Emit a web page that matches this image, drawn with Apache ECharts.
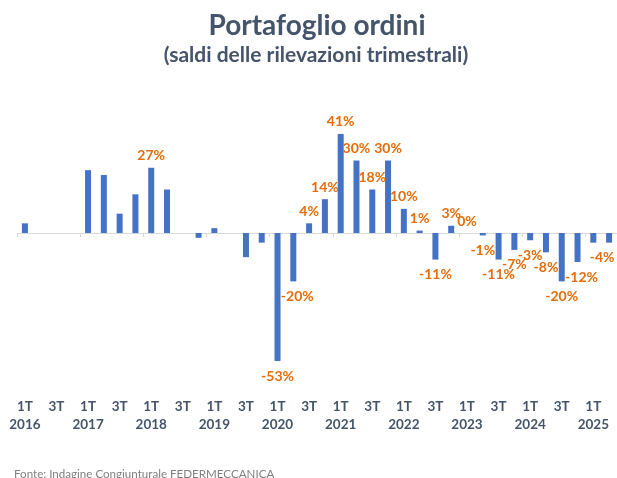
<!DOCTYPE html>
<html>
<head>
<meta charset="utf-8">
<script src="https://cdn.jsdelivr.net/npm/echarts@6/dist/echarts.min.js"></script>
<style>
  html, body { margin: 0; padding: 0; background: #fff; }
  #chart { width: 617px; height: 478px; }
</style>
</head>
<body>
<div id="chart"></div>
<script>
// anni e trimestri (1T 2016 .. 2T 2025)
const years = ['2016', '2017', '2018', '2019', '2020', '2021', '2022', '2023', '2024', '2025'];
const quarters = ['1T', '2T', '3T', '4T'];
// saldi %
const values = [
  4, 0, 0, 0,
  26, 24, 8, 16,
  27, 18, 0, -2,
  2, 0, -10, -4,
  -53, -20, 4, 14,
  41, 30, 18, 30,
  10, 1, -11, 3,
  0, -1, -11, -7,
  -3, -8, -20, -12,
  -4, -4
];
// trimestri con etichetta
const shownLabels = [8, 16, 17, 18, 19, 20, 21, 22, 23, 24, 25, 26, 27, 28, 29, 30, 31, 32, 33, 34, 35, 37];

const categories = [];
years.forEach(y => quarters.forEach(q => categories.push(q + ' ' + y)));
categories.length = values.length;

const blue = '#4472C4';
const orange = '#E46C0A';
const textDark = '#44546A';
const gridColor = '#D9D9D9';

// spostamenti manuali delle etichette, come nell'originale
const labelShift = { 17: 4, 35: 4, 37: -7 };

const barData = values.map((v, i) => {
  const show = shownLabels.indexOf(i) >= 0;
  return {
    value: v,
    label: {
      show: show,
      position: v >= 0 ? 'top' : 'bottom',
      distance: v >= 0 ? 5 : 8,
      offset: [labelShift[i] || 0, 0]
    }
  };
});

const chart = echarts.init(document.getElementById('chart'));
chart.setOption({
  animation: false,
  graphic: [
    {
      type: 'text', x: 317, y: 26,
      style: {
        text: 'Portafoglio ordini', fill: textDark,
        font: 'bold 28px Lato', align: 'center', verticalAlign: 'middle',
        textAlign: 'center', textVerticalAlign: 'middle'
      }
    },
    {
      type: 'text', x: 316, y: 55,
      style: {
        text: '(saldi delle rilevazioni trimestrali)', fill: textDark,
        font: 'bold 21px Lato', align: 'center', verticalAlign: 'middle',
        textAlign: 'center', textVerticalAlign: 'middle'
      }
    },
    {
      type: 'text', x: 14, y: 474,
      style: {
        text: 'Fonte: Indagine Congiunturale FEDERMECCANICA', fill: '#7F7F7F',
        font: '11.6px Lato', align: 'left', verticalAlign: 'middle',
        textAlign: 'left', textVerticalAlign: 'middle'
      }
    }
  ],
  grid: { left: 17, right: -2, top: 88, height: 290 },
  xAxis: [
    {
      type: 'category',
      data: categories,
      axisLine: { onZero: true, lineStyle: { color: gridColor, width: 1 } },
      axisTick: { show: true, length: 4, lineStyle: { color: gridColor } },
      axisLabel: { show: false },
      splitLine: { show: false }
    },
    {
      type: 'category',
      data: categories,
      position: 'bottom',
      axisLine: { show: false, onZero: false },
      axisTick: { show: false },
      axisLabel: {
        interval: 0,
        margin: 20,
        color: textDark,
        fontFamily: 'Lato',
        fontWeight: 'bold',
        fontSize: 13.5,
        lineHeight: 18,
        formatter: (v, i) => {
          const parts = v.split(' ');
          if (i % 4 === 0) return parts[0] + '\n' + parts[1];
          if (i % 4 === 2) return parts[0];
          return '';
        }
      }
    }
  ],
  yAxis: {
    type: 'value',
    min: -60,
    max: 60,
    show: false,
    splitLine: { show: false }
  },
  series: [
    {
      type: 'bar',
      xAxisIndex: 0,
      data: barData,
      barWidth: 6,
      itemStyle: { color: blue },
      label: {
        color: orange,
        fontFamily: 'Lato',
        fontWeight: 'bold',
        fontSize: 14,
        formatter: p => p.value + '%'
      }
    }
  ]
});
</script>
</body>
</html>
